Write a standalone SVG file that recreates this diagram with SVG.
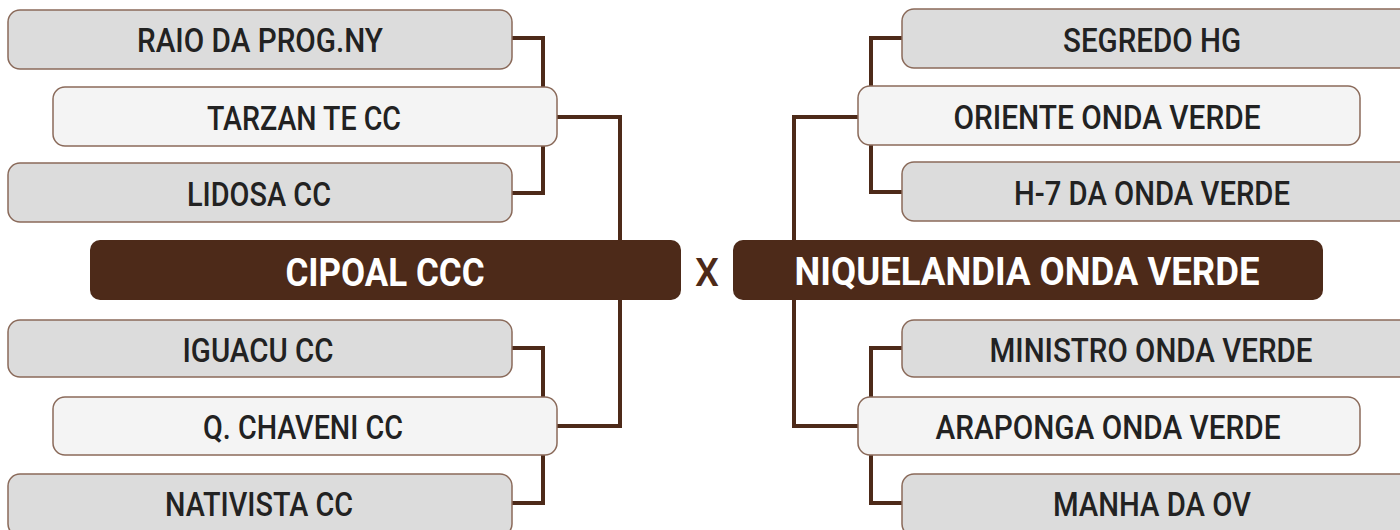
<svg xmlns="http://www.w3.org/2000/svg" width="1400" height="530" viewBox="0 0 1400 530">
<style>
.g{fill:#dcdcdc;stroke:#8a6a5a;stroke-width:1.5}
.w{fill:#f4f4f4;stroke:#8a6a5a;stroke-width:1.5}
.d{fill:#4d2a19}
.t{font-family:Roboto,"Liberation Sans",sans-serif;font-weight:500;font-size:34px;fill:#222;text-anchor:middle}
.tw{font-family:Roboto,"Liberation Sans",sans-serif;font-weight:700;font-size:38px;fill:#fff;text-anchor:middle}
.c{fill:none;stroke:#4d2a19;stroke-width:4}
</style>
<rect width="1400" height="530" fill="#fff"/>
<g id="connectors">
<path class="c" d="M512 38H543V193H512"/>
<path class="c" d="M557 117H620V426H557"/>
<path class="c" d="M512 348H543V503H512"/>
<path class="c" d="M902 38H871V192H902"/>
<path class="c" d="M858 117H794V426H858"/>
<path class="c" d="M902 348H871V503H902"/>
</g>
<g id="raio"><rect class="g" x="8" y="10" width="504" height="59" rx="12"/><text class="t" x="260" y="52" textLength="246" lengthAdjust="spacingAndGlyphs">RAIO DA PROG.NY</text></g>
<g id="tarzan"><rect class="w" x="53" y="87" width="504" height="59" rx="12"/><text class="t" x="304" y="130" textLength="194" lengthAdjust="spacingAndGlyphs">TARZAN TE CC</text></g>
<g id="lidosa"><rect class="g" x="8" y="163" width="504" height="59" rx="12"/><text class="t" x="259" y="206" textLength="144" lengthAdjust="spacingAndGlyphs">LIDOSA CC</text></g>
<g id="cipoal"><rect class="d" x="90" y="240" width="591" height="60" rx="10"/><text class="tw" x="385" y="286" textLength="199" lengthAdjust="spacingAndGlyphs">CIPOAL CCC</text></g>
<g id="iguacu"><rect class="g" x="8" y="320" width="504" height="57" rx="12"/><text class="t" x="258" y="362" textLength="151" lengthAdjust="spacingAndGlyphs">IGUACU CC</text></g>
<g id="chaveni"><rect class="w" x="53" y="397" width="504" height="58" rx="12"/><text class="t" x="303" y="439" textLength="200" lengthAdjust="spacingAndGlyphs">Q. CHAVENI CC</text></g>
<g id="nativista"><rect class="g" x="8" y="474" width="504" height="62" rx="12"/><text class="t" x="259" y="516" textLength="188" lengthAdjust="spacingAndGlyphs">NATIVISTA CC</text></g>
<g id="vs"><text x="707" y="286" font-family="Roboto,'Liberation Sans',sans-serif" font-weight="500" font-size="38" fill="#4d2a19" text-anchor="middle">X</text></g>
<g id="niquelandia"><rect class="d" x="733" y="240" width="590" height="60" rx="10"/><text class="tw" x="1027" y="285" textLength="465" lengthAdjust="spacingAndGlyphs">NIQUELANDIA ONDA VERDE</text></g>
<g id="segredo"><rect class="g" x="902" y="9" width="510" height="59" rx="12"/><text class="t" x="1152" y="52" textLength="178" lengthAdjust="spacingAndGlyphs">SEGREDO HG</text></g>
<g id="oriente"><rect class="w" x="858" y="86" width="502" height="59" rx="12"/><text class="t" x="1107" y="129" textLength="307" lengthAdjust="spacingAndGlyphs">ORIENTE ONDA VERDE</text></g>
<g id="h7"><rect class="g" x="902" y="162" width="510" height="59" rx="12"/><text class="t" x="1152" y="205" textLength="276" lengthAdjust="spacingAndGlyphs">H-7 DA ONDA VERDE</text></g>
<g id="ministro"><rect class="g" x="902" y="320" width="510" height="57" rx="12"/><text class="t" x="1151" y="362" textLength="323" lengthAdjust="spacingAndGlyphs">MINISTRO ONDA VERDE</text></g>
<g id="araponga"><rect class="w" x="858" y="397" width="502" height="58" rx="12"/><text class="t" x="1108" y="439" textLength="345" lengthAdjust="spacingAndGlyphs">ARAPONGA ONDA VERDE</text></g>
<g id="manha"><rect class="g" x="902" y="474" width="510" height="62" rx="12"/><text class="t" x="1152" y="516" textLength="198" lengthAdjust="spacingAndGlyphs">MANHA DA OV</text></g>
</svg>
